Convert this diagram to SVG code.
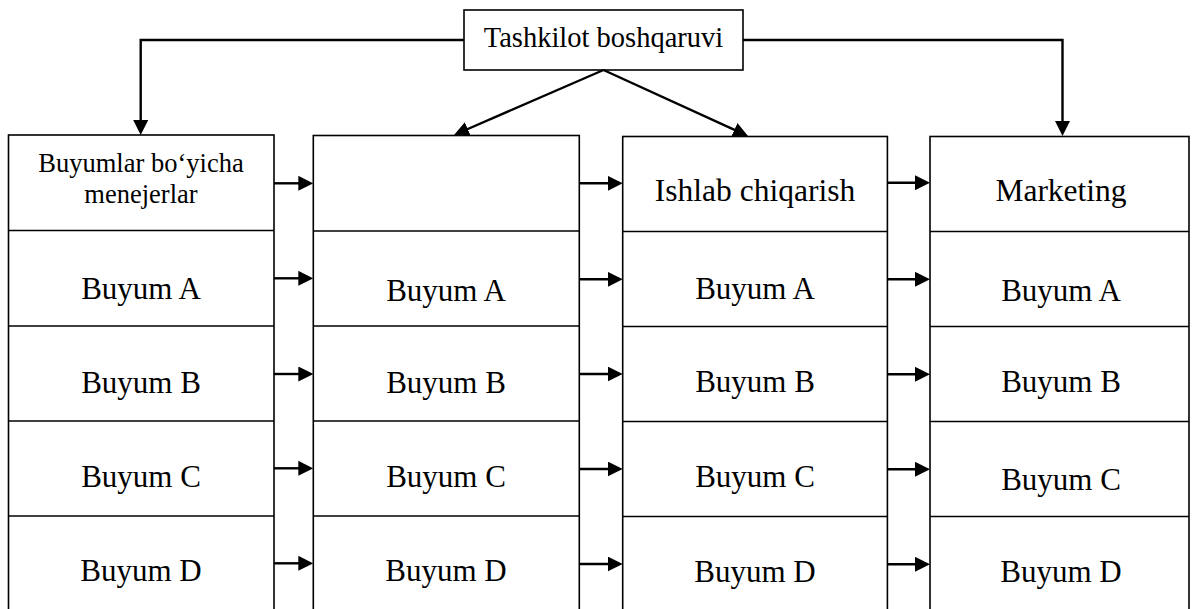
<svg xmlns="http://www.w3.org/2000/svg" width="1195" height="609" viewBox="0 0 1195 609">
  <style>
    .box { fill: #fff; stroke: #000; stroke-width: 1.6; }
    .div { stroke: #000; stroke-width: 1.6; }
    .t { font-family: "Liberation Serif", "Times New Roman", serif; fill: #000; text-anchor: middle; }
    .row { font-size: 31px; }
    .head { font-size: 31.5px; }
    .small { font-size: 26.5px; }
    .link { fill: none; stroke: #000; stroke-width: 2.4; marker-end: url(#arrow); }
  </style>
  <defs>
    <marker id="arrow" markerUnits="userSpaceOnUse" viewBox="0 0 15 15" markerWidth="15" markerHeight="15" refX="5" refY="7.5" orient="auto">
      <path d="M0,0 L15,7.5 L0,15 z" fill="#000"/>
    </marker>
  </defs>
  <rect width="1195" height="609" fill="#fff"/>

  <!-- top box -->
  <g id="root">
    <rect class="box" x="464" y="10" width="279" height="60"/>
    <text class="t" x="603.5" y="47" style="font-size:28.5px">Tashkilot boshqaruvi</text>
  </g>

  <!-- column 1: product managers -->
  <g id="col-managers">
    <rect class="box" x="8.5" y="135" width="265.5" height="480"/>
    <line class="div" x1="8.5" y1="230.5" x2="274" y2="230.5"/>
    <line class="div" x1="8.5" y1="326" x2="274" y2="326"/>
    <line class="div" x1="8.5" y1="421" x2="274" y2="421"/>
    <line class="div" x1="8.5" y1="516" x2="274" y2="516"/>
    <text class="t small" x="141" y="172">Buyumlar bo‘yicha</text>
    <text class="t small" x="141" y="203">menejerlar</text>
    <text class="t row" x="141" y="299">Buyum A</text>
    <text class="t row" x="141" y="393">Buyum B</text>
    <text class="t row" x="141" y="487">Buyum C</text>
    <text class="t row" x="141" y="581">Buyum D</text>
  </g>

  <!-- column 2: untitled -->
  <g id="col-blank">
    <rect class="box" x="313.3" y="135.5" width="266" height="480"/>
    <line class="div" x1="313.3" y1="231" x2="579.3" y2="231"/>
    <line class="div" x1="313.3" y1="326" x2="579.3" y2="326"/>
    <line class="div" x1="313.3" y1="421" x2="579.3" y2="421"/>
    <line class="div" x1="313.3" y1="516" x2="579.3" y2="516"/>
    <text class="t row" x="446" y="301">Buyum A</text>
    <text class="t row" x="446" y="393">Buyum B</text>
    <text class="t row" x="446" y="487">Buyum C</text>
    <text class="t row" x="446" y="581">Buyum D</text>
  </g>

  <!-- column 3: production -->
  <g id="col-production">
    <rect class="box" x="622.7" y="136.5" width="264.7" height="480"/>
    <line class="div" x1="622.7" y1="231.5" x2="887.4" y2="231.5"/>
    <line class="div" x1="622.7" y1="326.5" x2="887.4" y2="326.5"/>
    <line class="div" x1="622.7" y1="421.5" x2="887.4" y2="421.5"/>
    <line class="div" x1="622.7" y1="516.5" x2="887.4" y2="516.5"/>
    <text class="t head" x="755" y="201">Ishlab chiqarish</text>
    <text class="t row" x="755" y="299">Buyum A</text>
    <text class="t row" x="755" y="392">Buyum B</text>
    <text class="t row" x="755" y="487">Buyum C</text>
    <text class="t row" x="755" y="582">Buyum D</text>
  </g>

  <!-- column 4: marketing -->
  <g id="col-marketing">
    <rect class="box" x="930" y="136.5" width="259" height="480"/>
    <line class="div" x1="930" y1="231.5" x2="1189" y2="231.5"/>
    <line class="div" x1="930" y1="326.5" x2="1189" y2="326.5"/>
    <line class="div" x1="930" y1="421.5" x2="1189" y2="421.5"/>
    <line class="div" x1="930" y1="516.5" x2="1189" y2="516.5"/>
    <text class="t head" x="1061" y="201">Marketing</text>
    <text class="t row" x="1061" y="301">Buyum A</text>
    <text class="t row" x="1061" y="392">Buyum B</text>
    <text class="t row" x="1061" y="490">Buyum C</text>
    <text class="t row" x="1061" y="582">Buyum D</text>
  </g>

  <!-- connectors -->
  <g id="connectors">
    <polyline class="link" points="464,40 140.7,40 140.7,125"/>
    <polyline class="link" points="743,40 1062.5,40 1062.5,126"/>
    <line class="link" x1="603.5" y1="70" x2="463.2" y2="131"/>
    <line class="link" x1="603.5" y1="70" x2="738.9" y2="131.9"/>

    <line class="link" x1="274" y1="183.3" x2="303.3" y2="183.3"/>
    <line class="link" x1="274" y1="278.3" x2="303.3" y2="278.3"/>
    <line class="link" x1="274" y1="374" x2="303.3" y2="374"/>
    <line class="link" x1="274" y1="468.3" x2="303.3" y2="468.3"/>
    <line class="link" x1="274" y1="563.3" x2="303.3" y2="563.3"/>

    <line class="link" x1="579.3" y1="183.3" x2="612.7" y2="183.3"/>
    <line class="link" x1="579.3" y1="279.3" x2="612.7" y2="279.3"/>
    <line class="link" x1="579.3" y1="374" x2="612.7" y2="374"/>
    <line class="link" x1="579.3" y1="469" x2="612.7" y2="469"/>
    <line class="link" x1="579.3" y1="564" x2="612.7" y2="564"/>

    <line class="link" x1="887.4" y1="182.7" x2="920" y2="182.7"/>
    <line class="link" x1="887.4" y1="279.3" x2="920" y2="279.3"/>
    <line class="link" x1="887.4" y1="374.3" x2="920" y2="374.3"/>
    <line class="link" x1="887.4" y1="469.3" x2="920" y2="469.3"/>
    <line class="link" x1="887.4" y1="564.3" x2="920" y2="564.3"/>
  </g>
</svg>
